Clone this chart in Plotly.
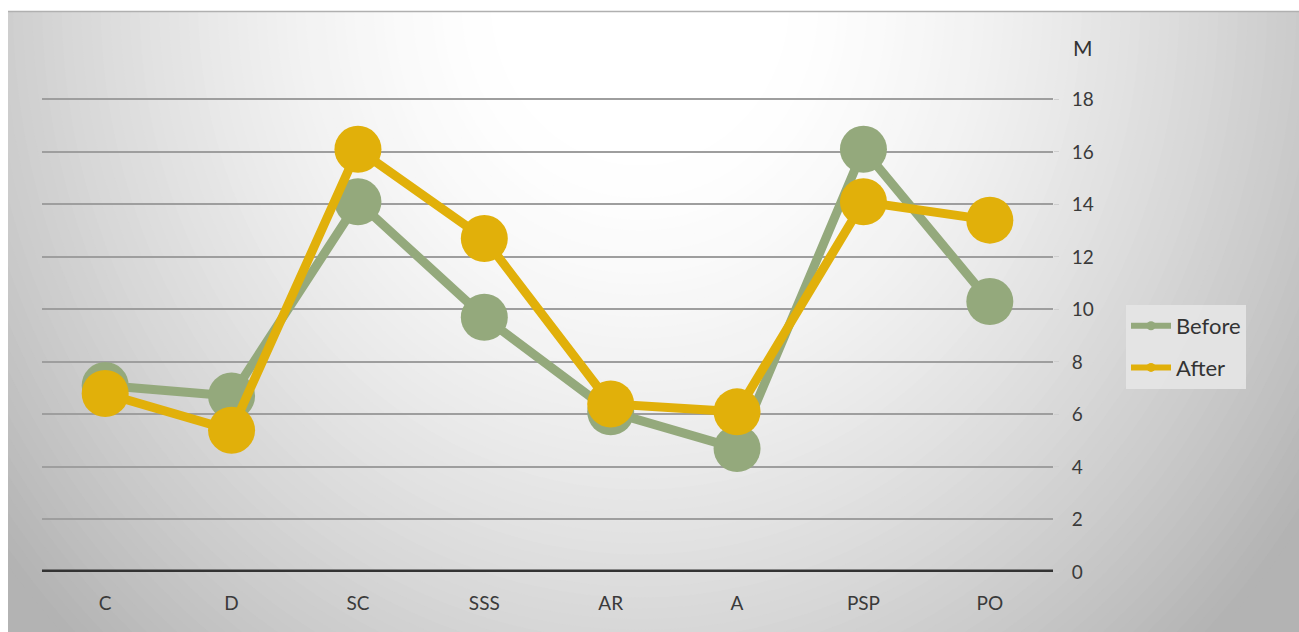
import plotly.graph_objects as go
import numpy as np

categories = ["C", "D", "SC", "SSS", "AR", "A", "PSP", "PO"]
before = [7.1, 6.7, 14.1, 9.7, 6.1, 4.7, 16.1, 10.3]
after = [6.8, 5.4, 16.1, 12.7, 6.4, 6.1, 14.1, 13.4]
y_ticks = [0, 2, 4, 6, 8, 10, 12, 14, 16, 18]

GREEN = "#94a97c"
GOLD = "#e1b00a"
FONT = "Lato"
TXT = "#3a3a3a"

W, H = 1299, 632
L, R, T, B = 42, 1053, 60, 572  # plot area in pixels


def px2x(px):
    return (px - L) / (R - L)


def py2y(py):
    return (B - py) / (B - T)


shapes = []
# base gray box
shapes.append(dict(type="rect", xref="paper", yref="paper", layer="below",
                   x0=px2x(8), x1=px2x(W + 5), y0=py2y(H + 5), y1=py2y(11),
                   fillcolor="rgb(179,179,179)", line=dict(width=0)))
# radial gradient via concentric ellipses
cx, cy = 640, 0
A, Bv = 650, 720
d_lo, d_hi = 0.2, 1.25
n = 70
for k in range(n, -1, -1):
    d = d_lo + (d_hi - d_lo) * k / n
    t = (d - d_lo) / (d_hi - d_lo)
    c = int(round(255 - 76 * t ** 1.5))
    col = "rgb(%d,%d,%d)" % (c, c, c)
    shapes.append(dict(type="circle", xref="paper", yref="paper", layer="below",
                       x0=px2x(cx - A * d), x1=px2x(cx + A * d),
                       y0=py2y(cy + Bv * d), y1=py2y(cy - Bv * d),
                       fillcolor=col, line=dict(width=0)))
# white margins (left strip and top band)
shapes.append(dict(type="rect", xref="paper", yref="paper", layer="below",
                   x0=px2x(-5), x1=px2x(8), y0=py2y(H + 5), y1=py2y(-5),
                   fillcolor="white", line=dict(width=0)))
shapes.append(dict(type="rect", xref="paper", yref="paper", layer="below",
                   x0=px2x(-5), x1=px2x(W + 5), y0=py2y(11), y1=py2y(-5),
                   fillcolor="white", line=dict(width=0)))
# thin shadow line at top edge of box
shapes.append(dict(type="line", xref="paper", yref="paper", layer="below",
                   x0=px2x(8), x1=px2x(W + 5), y0=py2y(11.5), y1=py2y(11.5),
                   line=dict(color="#b0b0b0", width=1.5)))
# zero baseline
shapes.append(dict(type="line", xref="paper", yref="y", layer="above",
                   x0=0, x1=1, y0=0, y1=0,
                   line=dict(color="#333333", width=5)))

fig = go.Figure()
fig.add_trace(go.Scatter(x=categories, y=before, mode="lines+markers", name="Before",
                         line=dict(color=GREEN, width=9),
                         marker=dict(color=GREEN, size=47), showlegend=False))
fig.add_trace(go.Scatter(x=categories, y=after, mode="lines+markers", name="After",
                         line=dict(color=GOLD, width=9),
                         marker=dict(color=GOLD, size=47), showlegend=False))
# legend entries
fig.add_trace(go.Scatter(x=[None], y=[None], mode="lines+markers", name="Before",
                         legendgroup="b", line=dict(color=GREEN, width=6),
                         marker=dict(color=GREEN, size=9)))
fig.add_trace(go.Scatter(x=[None], y=[None], mode="lines+markers", name="After",
                         legendgroup="a", line=dict(color=GOLD, width=6),
                         marker=dict(color=GOLD, size=9)))

fig.update_layout(
    width=W, height=H,
    margin=dict(l=L, r=W - R, t=T, b=H - B, pad=0),
    paper_bgcolor="white",
    plot_bgcolor="rgba(0,0,0,0)",
    shapes=shapes,
    font=dict(family=FONT, color=TXT, size=19),
    showlegend=True,
    legend=dict(x=px2x(1126), y=py2y(305), xanchor="left", yanchor="top",
                bgcolor="rgba(230,230,230,0.9)", borderwidth=0,
                font=dict(family=FONT, size=22, color="#333333"),
                traceorder="grouped", tracegroupgap=10,
                itemwidth=40),
    xaxis=dict(type="category", range=[-0.5, 7.5], showgrid=False, zeroline=False,
               showline=False, ticks="", tickfont=dict(size=19, color=TXT),
               ticklabelstandoff=18, fixedrange=True),
    yaxis=dict(range=[0, 19.5], tickvals=y_ticks, side="right", showgrid=True,
               gridcolor="#9e9e9e", gridwidth=1.5, zeroline=False, showline=False,
               ticks="outside", ticklen=5, tickcolor="#cfcfcf",
               tickfont=dict(size=19, color=TXT), ticklabelstandoff=9),
    annotations=[dict(text="M", xref="paper", yref="paper", x=px2x(1083), y=py2y(47),
                      showarrow=False, font=dict(family=FONT, size=21, color="#333333"),
                      xanchor="center", yanchor="middle")],
)

fig.write_html("out.html")
